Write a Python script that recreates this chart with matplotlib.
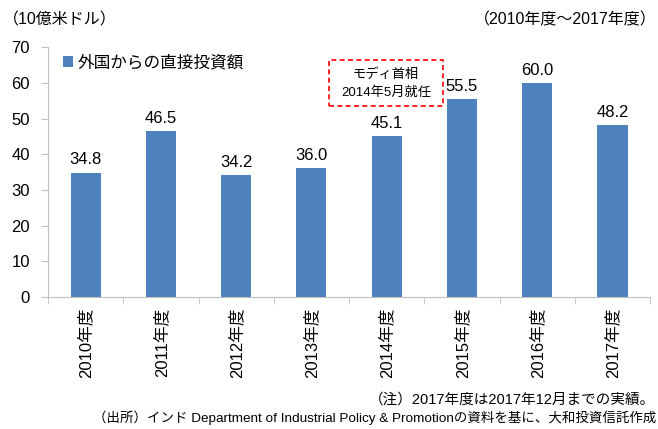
import numpy as np
import matplotlib.pyplot as plt
from matplotlib.patches import Rectangle

plt.rcParams['font.family'] = ['Liberation Sans', 'Noto Sans CJK JP', 'DejaVu Sans']

years = ['2010年度', '2011年度', '2012年度', '2013年度', '2014年度', '2015年度', '2016年度', '2017年度']
fdi = [34.8, 46.5, 34.2, 36.0, 45.1, 55.5, 60.0, 48.2]
legend_label = '外国からの直接投資額'
bar_color = '#4F81BD'
axis_gray = '#BFBFBF'

fig = plt.figure(figsize=(6.58, 4.29), dpi=100)
ax = fig.add_axes([0.073, 0.308, 0.915, 0.582])

x = np.arange(len(years))
bars = ax.bar(x, fdi, width=0.4, color=bar_color, label=legend_label)
for xi, v in zip(x, fdi):
    ax.text(xi, v + 1.5, f'{v:.1f}', ha='center', va='bottom', fontsize=12)

ax.set_xlim(-0.5, len(years) - 0.5)
ax.set_ylim(0, 70)
ax.set_yticks(range(0, 71, 10))
ax.tick_params(axis='y', labelsize=12, length=5, color=axis_gray, pad=8)
ax.set_xticks(x)
ax.set_xticklabels(years, rotation=90, fontsize=12)
ax.set_xticks(np.arange(-0.5, len(years)), minor=True)
ax.tick_params(axis='x', which='major', length=0, pad=8)
ax.tick_params(axis='x', which='minor', length=5, color=axis_gray)
for s in ['top', 'right']:
    ax.spines[s].set_visible(False)
for s in ['left', 'bottom']:
    ax.spines[s].set_color(axis_gray)

ax.legend(loc='upper left', bbox_to_anchor=(0.0, 1.03), frameon=False, fontsize=12,
          handlelength=0.6, handleheight=0.6, handletextpad=0.3)

# annotation box
box = Rectangle((329 / 658, 1 - 106 / 429), 114 / 658, 46 / 429, transform=fig.transFigure,
                fill=False, edgecolor='#FF0000', linestyle=(0, (3, 2)), linewidth=1.2)
fig.add_artist(box)
fig.text(386 / 658, 1 - 75 / 429, 'モディ首相', ha='center', va='center', fontsize=9.5)
fig.text(386 / 658, 1 - 93 / 429, '2014年5月就任', ha='center', va='center', fontsize=9.5)

fig.text(0.005, 1 - 20 / 429, '（10億米ドル）', ha='left', va='center', fontsize=11.5)
fig.text(0.998, 1 - 20 / 429, '（2010年度～2017年度）', ha='right', va='center', fontsize=11.5)
fig.text(0.995, 1 - 400 / 429, '（注）2017年度は2017年12月までの実績。', ha='right', va='center', fontsize=10.5)
fig.text(0.997, 1 - 418 / 429, '（出所）インド Department of Industrial Policy & Promotionの資料を基に、大和投資信託作成',
         ha='right', va='center', fontsize=9.7)

fig.savefig('out.png', dpi=100)
